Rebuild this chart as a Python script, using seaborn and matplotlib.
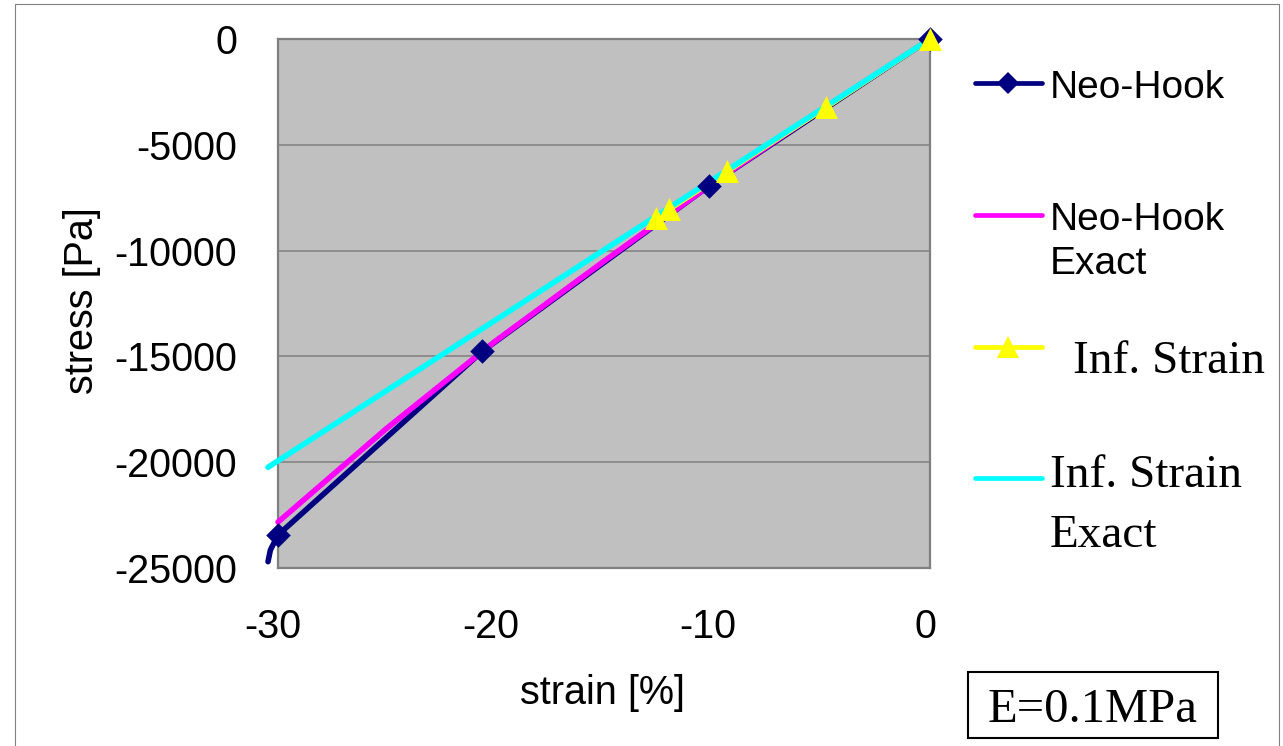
import matplotlib
matplotlib.use("Agg")
import matplotlib.pyplot as plt
import seaborn as sns
from matplotlib.lines import Line2D
from matplotlib.patches import Rectangle
from matplotlib.transforms import ScaledTranslation

# Neo-Hookean model: sampled points (strain in %, stress in Pa)
neo_strain = [0.0, -10.15, -20.6, -30.0]
neo_stress = [0, -6930, -14760, -23440]
# end of the smoothed curve past the last sample
neo_tail_strain = [-30.35, -30.46]
neo_tail_stress = [-24150, -24700]

# Neo-Hookean exact solution
neo_exact_strain = [0, -5, -10, -15, -20, -25, -30]
neo_exact_stress = [0, -3350, -6820, -10500, -14280, -18400, -22830]

# Infinitesimal strain: sampled points
inf_strain = [0.0, -4.8, -9.35, -12.0, -12.6]
inf_stress = [0, -3230, -6260, -8040, -8440]

# Infinitesimal strain exact (linear)
inf_exact_strain = [0.0, -30.46]
inf_exact_stress = [0, -20240]

x_ticks = [-30, -20, -10, 0]
y_ticks = [0, -5000, -10000, -15000, -20000, -25000]

NAVY = "#000080"
MAGENTA = "#FF00FF"
YELLOW = "#FFFF00"
CYAN = "#00FFFF"
GRID = "#808080"

sns.set_theme(style="white")
plt.rcParams["font.family"] = ["Liberation Sans", "DejaVu Sans"]
plt.rcParams["text.color"] = "black"
plt.rcParams["axes.labelcolor"] = "black"
plt.rcParams["xtick.color"] = "black"
plt.rcParams["ytick.color"] = "black"

W, H = 1283, 746
fig = plt.figure(figsize=(W / 100, H / 100), dpi=100)
fig.patch.set_facecolor("white")


def fx(px):
    return px / W


def fy(py):
    return 1 - py / H


ax = fig.add_axes([fx(278), fy(568), fx(930) - fx(278), fy(39) - fy(568)])
ax.set_facecolor("#C0C0C0")

LW = 4.0
sns.lineplot(x=neo_strain + neo_tail_strain, y=neo_stress + neo_tail_stress,
             sort=False, estimator=None, color=NAVY, lw=LW, ax=ax,
             clip_on=False, zorder=2)
sns.lineplot(x=neo_exact_strain, y=neo_exact_stress, sort=False, estimator=None,
             color=MAGENTA, lw=LW, ax=ax, clip_on=False, zorder=3)
sns.lineplot(x=inf_strain, y=inf_stress, sort=False, estimator=None,
             color=YELLOW, lw=LW, ax=ax, clip_on=False, zorder=4)
sns.lineplot(x=inf_exact_strain, y=inf_exact_stress, sort=False, estimator=None,
             color=CYAN, lw=LW, ax=ax, clip_on=False, zorder=5)
sns.scatterplot(x=neo_strain, y=neo_stress, marker="D", s=12.5 ** 2, color=NAVY,
                edgecolor=NAVY, linewidth=0, ax=ax, clip_on=False, zorder=6)
sns.scatterplot(x=inf_strain, y=inf_stress, marker="^", s=16.5 ** 2, color=YELLOW,
                edgecolor=YELLOW, linewidth=0, ax=ax, clip_on=False, zorder=7)

ax.set_xlim(-30, 0)
ax.set_ylim(-25000, 0)
ax.set_xticks(x_ticks)
ax.set_yticks(y_ticks)
ax.set_xticklabels([str(v) for v in x_ticks])
ax.set_yticklabels([str(v) for v in y_ticks])
ax.yaxis.grid(True, color=GRID, lw=1.1)
ax.xaxis.grid(False)
ax.set_axisbelow(True)
for sp in ax.spines.values():
    sp.set_color(GRID)
    sp.set_linewidth(1.6)

ax.tick_params(axis="x", direction="in", length=9, width=1.3, color=GRID,
               pad=29, labelsize=28.5, labelcolor="black")
ax.tick_params(axis="y", direction="in", length=0, pad=29.5, labelsize=28.5,
               labelcolor="black")
shift = ScaledTranslation(-5 / 100, 0, fig.dpi_scale_trans)
for lab in ax.get_xticklabels():
    lab.set_transform(lab.get_transform() + shift)

ax.set_xlabel("strain [%]", fontsize=28.5, va="center", color="black")
ax.xaxis.set_label_coords(0.497, -0.2363)
ax.set_ylabel("stress [Pa]", fontsize=28.5, va="center", color="black")
ax.yaxis.set_label_coords(-0.3006, 0.505)

# legend drawn at the right of the plot
SANS = ["Liberation Sans", "DejaVu Sans"]
SERIF = ["Liberation Serif", "DejaVu Serif"]
hx0, hx1, hmid = 975, 1042, 1008
rows = [(83, NAVY, "D"), (215, MAGENTA, None), (347, YELLOW, "^"), (478, CYAN, None)]
for y, col, mk in rows:
    fig.add_artist(Line2D([fx(hx0), fx(hx1)], [fy(y), fy(y)], color=col, lw=3.4,
                          solid_capstyle="round", transform=fig.transFigure))
    if mk == "D":
        fig.add_artist(Line2D([fx(hmid)], [fy(y)], marker="D", ms=11, color=col,
                              mec=col, mew=0, transform=fig.transFigure))
    elif mk == "^":
        fig.add_artist(Line2D([fx(hmid)], [fy(y)], marker="^", ms=16, color=col,
                              mec=col, mew=0, transform=fig.transFigure))

fig.text(fx(1050), fy(98), "Neo-Hook", family=SANS, fontsize=28, va="baseline")
fig.text(fx(1050), fy(230), "Neo-Hook", family=SANS, fontsize=28, va="baseline")
fig.text(fx(1050), fy(274), "Exact", family=SANS, fontsize=28, va="baseline")
fig.text(fx(1073), fy(373), "Inf. Strain", family=SERIF, fontsize=34, va="baseline")
fig.text(fx(1050), fy(487), "Inf. Strain", family=SERIF, fontsize=34, va="baseline")
fig.text(fx(1050), fy(547), "Exact", family=SERIF, fontsize=34, va="baseline")

# material annotation
fig.add_artist(Rectangle((fx(968), fy(738)), fx(1218) - fx(968), fy(672) - fy(738),
                         transform=fig.transFigure, fill=False, ec="black", lw=1.5))
fig.text(fx(1093), fy(722), "E=0.1MPa", family=SERIF, fontsize=35, ha="center",
         va="baseline")

# outer frame
fig.add_artist(Rectangle((fx(15), -0.01), fx(1279) - fx(15), fy(4) + 0.01,
                         transform=fig.transFigure, fill=False, ec=GRID, lw=0.8))

fig.savefig("out.png", dpi=100)
